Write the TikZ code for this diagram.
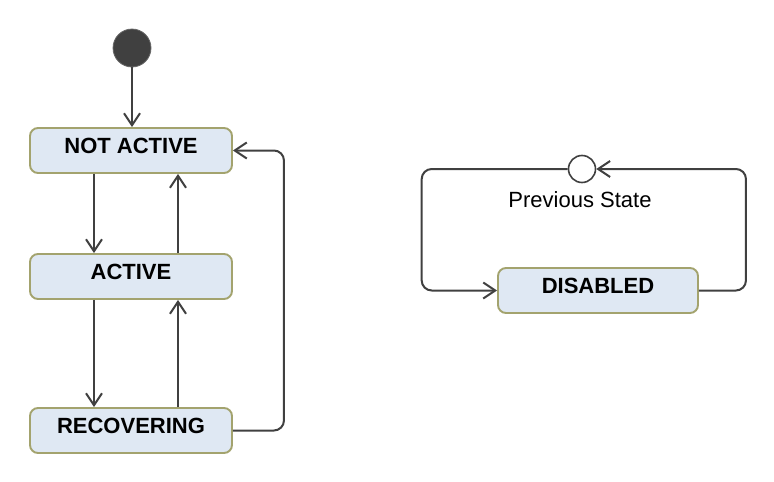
\documentclass[tikz,border=0pt]{standalone}
\usepackage{fontspec}
\setmainfont{Liberation Sans}
\usetikzlibrary{arrows.meta}
\definecolor{boxfill}{HTML}{DFE8F3}
\definecolor{boxline}{HTML}{A3A36E}
\definecolor{conn}{HTML}{404040}
\definecolor{initfill}{HTML}{404040}
\tikzset{
  statebox/.style={draw=boxline, fill=boxfill, line width=1.9pt, rounded corners=8pt,
    minimum width=202pt, minimum height=45pt, inner sep=0pt,
    font=\fontsize{22pt}{25pt}\selectfont\bfseries, text height=15.7pt, text depth=9pt},
  conn/.style={draw=conn, line width=2pt, rounded corners=10pt,
    -{Straight Barb[length=12pt,width=16pt,line width=2pt]}},
  initstate/.style={circle, fill=initfill, draw=initfill!80, line width=0.8pt, minimum size=38pt, inner sep=0pt},
  histstate/.style={circle, fill=white, draw=conn, line width=1.6pt, minimum size=27pt, inner sep=0pt},
  lbl/.style={font=\fontsize{22pt}{25pt}\selectfont, text height=15.7pt, text depth=0pt, inner sep=0pt}
}
\begin{document}
\begin{tikzpicture}[x=1pt,y=1pt]
\useasboundingbox (0,0) rectangle (774,-482);
\node[initstate] (init) at (132,-48) {};
\node[statebox] (na) at (131,-150.5) {NOT ACTIVE};
\node[statebox] (act) at (131,-276.5) {ACTIVE};
\node[statebox] (rec) at (131,-430.5) {RECOVERING};
\node[statebox, minimum width=200pt] (dis) at (598,-290.5) {DISABLED};
\node[histstate] (prev) at (582,-169) {};
\node[lbl] (prevlbl) at (580,-200) {Previous State};

\draw[conn] (init) -- (na.north -| init);
\draw[conn] ([xshift=-37pt]na.south) -- ([xshift=-37pt]act.north);
\draw[conn] ([xshift=47pt]act.north) -- ([xshift=47pt]na.south);
\draw[conn] ([xshift=-37pt]act.south) -- ([xshift=-37pt]rec.north);
\draw[conn] ([xshift=47pt]rec.north) -- ([xshift=47pt]act.south);
\draw[conn] (rec.east) -- ++(51,0) |- (na.east);
\draw[conn] (dis.east) -- ++(47,0) |- (prev.east);
\draw[conn] (prev.west) -- ++(-146,0) |- (dis.west);
\end{tikzpicture}
\end{document}
